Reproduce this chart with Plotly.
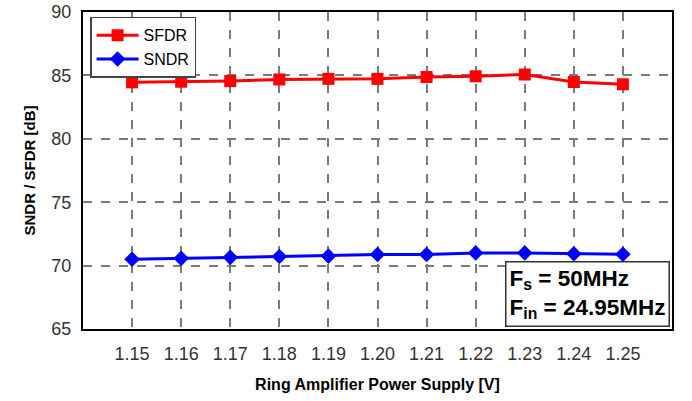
import plotly.graph_objects as go

voltage = [1.15, 1.16, 1.17, 1.18, 1.19, 1.20, 1.21, 1.22, 1.23, 1.24, 1.25]
tick_labels = ["1.15", "1.16", "1.17", "1.18", "1.19", "1.20", "1.21", "1.22", "1.23", "1.24", "1.25"]
sfdr = [84.45, 84.5, 84.55, 84.68, 84.73, 84.73, 84.87, 84.93, 85.07, 84.48, 84.3]
sndr = [70.5, 70.57, 70.65, 70.72, 70.75, 70.87, 70.87, 71.0, 71.0, 70.93, 70.9]

FONT = "Arial, Liberation Sans"

fig = go.Figure()
fig.add_trace(go.Scatter(x=voltage, y=sfdr, name="SFDR", mode="lines+markers",
                         line=dict(color="#ff0000", width=3),
                         marker=dict(symbol="square", size=12, color="#ff0000")))
fig.add_trace(go.Scatter(x=voltage, y=sndr, name="SNDR", mode="lines+markers",
                         line=dict(color="#0000ff", width=3),
                         marker=dict(symbol="diamond", size=12, color="#0000ff")))

axis_common = dict(showline=True, linecolor="black", linewidth=2, mirror=True,
                   showgrid=True, gridcolor="#7a7a7a", gridwidth=1.6, griddash="dash",
                   zeroline=False, ticks="", automargin=False, ticklabeloverflow="allow",
                   tickfont=dict(family=FONT, size=18, color="#333333"))

fig.update_xaxes(range=[1.14, 1.26], tickvals=voltage, ticktext=tick_labels,
                 ticklabelstandoff=7,
                 title=dict(text="<b>Ring Amplifier Power Supply [V]</b>", standoff=16,
                            font=dict(family=FONT, size=16, color="black")),
                 **axis_common)
fig.update_yaxes(range=[65, 90], tickvals=[65, 70, 75, 80, 85, 90],
                 ticklabelstandoff=6,
                 title=dict(text="<b>SNDR / SFDR [dB]</b>", standoff=12,
                            font=dict(family=FONT, size=15, color="black")),
                 **axis_common)

fig.add_annotation(xref="paper", yref="paper", x=0.9965, y=0.005, xanchor="right", yanchor="bottom",
                   text="<b>F<sub>s</sub> = 50MHz</b><br><b>F<sub>in</sub> = 24.95MHz</b>",
                   align="left", showarrow=False, bordercolor="#333333", borderwidth=1.5,
                   borderpad=3, bgcolor="white",
                   font=dict(family=FONT, size=22.5, color="black"))

fig.update_layout(width=692, height=401, margin=dict(l=83, r=20, t=12, b=72, autoexpand=False),
                  paper_bgcolor="white", plot_bgcolor="white", showlegend=True,
                  legend=dict(x=0.012, y=0.985, xanchor="left", yanchor="top",
                              bgcolor="white", bordercolor="#444444", borderwidth=1.5,
                              font=dict(family=FONT, size=16, color="black"),
                              tracegroupgap=0, itemwidth=42))

# remove the browser's default 8px body margin so the figure fills the window exactly
fig.write_html("out.html", config={"displayModeBar": False},
               post_script="document.body.style.margin='0';document.body.style.overflow='hidden';")
